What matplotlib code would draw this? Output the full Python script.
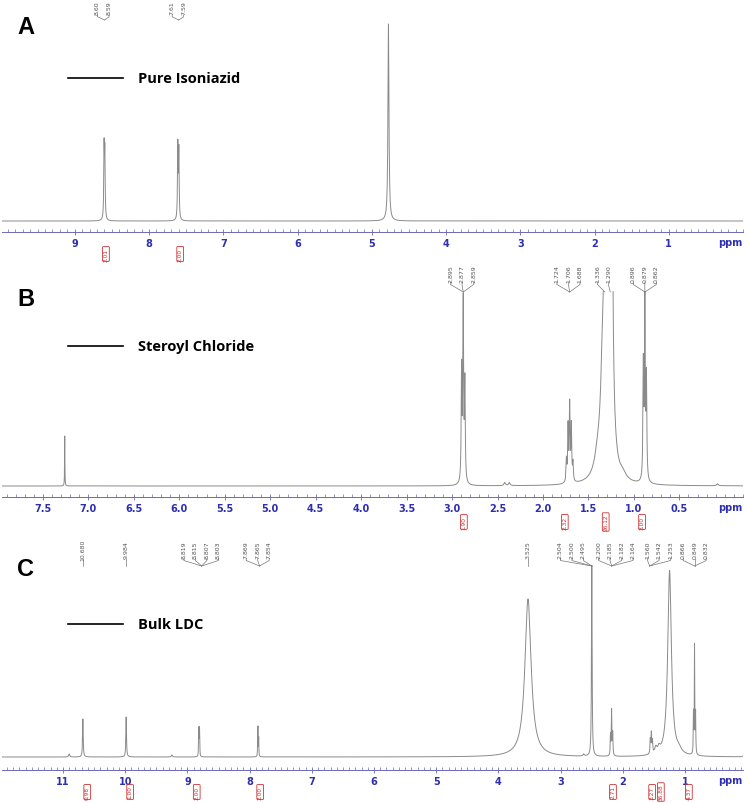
import numpy as np
import matplotlib
matplotlib.use("Agg")
import matplotlib.pyplot as plt
from matplotlib.lines import Line2D
from matplotlib.ticker import MultipleLocator

W, H = 749, 804

# ---------------- data ----------------
# A : pure isoniazid
a_shift = [8.605, 8.595, 7.612, 7.598, 4.775]
a_height = [70, 64, 74, 68, 197]
a_width = [0.005, 0.005, 0.005, 0.005, 0.008]
a_ticks = [9, 8, 7, 6, 5, 4, 3, 2, 1]
a_int_pos = [8.58, 7.58]
a_int_val = ["2.01", "2.00"]
a_pk_labels = [["8.60", "8.59"], ["7.61", "7.59"]]
a_pk_center = [8.615, 7.61]
a_pk_target = [8.600, 7.600]

# B : steroyl chloride
b_shift = [7.260, 2.895, 2.877, 2.859, 1.742, 1.724, 1.706, 1.688, 1.670,
           1.400, 1.340, 1.310, 1.285, 1.262, 1.245, 1.120,
           0.896, 0.879, 0.862, 2.420, 2.370, 0.080]
b_height = [50, 112, 178, 98, 22, 55, 76, 55, 18,
            14, 90, 160, 260, 330, 260, 5,
            114, 176, 100, 3, 3, 2]
b_width = [0.002, 0.005, 0.005, 0.005, 0.005, 0.005, 0.005, 0.005, 0.005,
           0.040, 0.030, 0.020, 0.018, 0.015, 0.012, 0.040,
           0.005, 0.005, 0.005, 0.010, 0.010, 0.010]
b_ticks = [7.5, 7.0, 6.5, 6.0, 5.5, 5.0, 4.5, 4.0, 3.5, 3.0, 2.5, 2.0, 1.5, 1.0, 0.5]
b_int_pos = [2.87, 1.76, 1.31, 0.91]
b_int_val = ["1.90", "2.32", "26.12", "3.00"]
b_pk_labels = [["2.895", "2.877", "2.859"], ["1.724", "1.706", "1.688"],
               ["1.336"], ["1.290"], ["0.896", "0.879", "0.862"]]
b_pk_center = [2.890, 1.720, 1.400, 1.280, 0.880]
b_pk_target = [2.877, 1.706, 1.320, 1.260, 0.879]

# C : bulk LDC
c_shift = [10.900, 10.680, 9.984, 9.250, 8.819, 8.815, 8.807, 8.803,
           7.869, 7.865, 7.854, 3.525, 2.630, 2.500,
           2.200, 2.182, 2.164, 1.560, 1.543, 1.525, 1.470, 1.420,
           1.250, 1.100, 0.866, 0.849, 0.832, 0.050]
c_height = [3, 38, 40, 2, 18, 20, 20, 18,
            20, 22, 18, 158, 2, 192,
            20, 45, 22, 14, 20, 12, 6, 5,
            186, 4, 40, 108, 40, 4]
c_width = [0.010, 0.006, 0.006, 0.010, 0.003, 0.003, 0.003, 0.003,
           0.003, 0.003, 0.003, 0.060, 0.010, 0.006,
           0.005, 0.005, 0.005, 0.006, 0.006, 0.006, 0.020, 0.020,
           0.035, 0.050, 0.004, 0.004, 0.004, 0.010]
c_ticks = [11, 10, 9, 8, 7, 6, 5, 4, 3, 2, 1]
c_int_pos = [10.61, 9.92, 8.85, 7.83, 2.16, 1.53, 1.39, 0.94]
c_int_val = ["0.98", "1.00", "2.00", "2.00", "2.71", "3.27", "36.88", "4.37"]
c_pk_labels = [["10.680"], ["9.984"], ["8.819", "8.815", "8.807", "8.803"],
               ["7.869", "7.865", "7.854"], ["3.525"], ["2.504", "2.500", "2.495"],
               ["2.200", "2.185", "2.182", "2.164"], ["1.560", "1.542", "1.253"],
               ["0.866", "0.849", "0.832"]]
c_pk_center = [10.680, 9.984, 8.780, 7.870, 3.525, 2.820, 2.115, 1.420, 0.846]
c_pk_target = [10.680, 9.984, 8.770, 7.840, 3.525, 2.500, 2.180, 1.570, 0.846]


# ---------------- helpers ----------------
def lorentz(x, shifts, heights, widths):
    y = np.zeros_like(x)
    for s, h, w in zip(shifts, heights, widths):
        y += h * w ** 2 / ((x - s) ** 2 + w ** 2)
    return y


def fy(py):
    return 1 - py / H


fig = plt.figure(figsize=(W / 100, H / 100), dpi=100)
fig.patch.set_facecolor("white")

blue = "#2e2eb0"
axis_col = "#6a6ab8"
gray_line = "#8a8a8a"
red = "#d03030"


def panel(left, right, spine_y, top_y, base_off, shifts, heights, widths,
          ticks, fmt, letter, letter_y, name, legend_y,
          int_pos, int_val, int_y, pk_labels, pk_center, pk_target, lab_y, conv_y):
    x0, x1 = 2, 743
    ax = fig.add_axes([x0 / W, fy(spine_y), (x1 - x0) / W, (spine_y - top_y) / H])
    ppx = (x1 - x0) / (left - right)
    x = np.linspace(right, left, 60000)
    y = lorentz(x, shifts, heights, widths)
    ax.plot(x, y, color=gray_line, lw=0.7)
    ax.set_xlim(left, right)
    ax.set_ylim(-base_off, spine_y - base_off - top_y)
    for s in ["top", "left", "right"]:
        ax.spines[s].set_visible(False)
    ax.spines["bottom"].set_color(axis_col)
    ax.spines["bottom"].set_linewidth(0.7)
    ax.set_yticks([])
    ax.set_xticks(ticks)
    ax.set_xticklabels([fmt % t for t in ticks])
    ax.xaxis.set_minor_locator(MultipleLocator(0.1))
    ax.tick_params(axis="x", which="major", direction="inout", length=4, width=0.6,
                   color=axis_col, labelcolor=blue, labelsize=7, pad=2)
    ax.tick_params(axis="x", which="minor", direction="in", length=2, width=0.5,
                   color=axis_col)
    for lab in ax.get_xticklabels():
        lab.set_fontweight("bold")
    fig.text(730 / W, fy(spine_y + 10), "ppm", color=blue, fontsize=7,
             fontweight="bold", ha="center", va="center")

    # panel letter and legend
    fig.text(26 / W, fy(letter_y), letter, fontsize=17, fontweight="bold",
             family="Liberation Sans", ha="center", va="center")
    fig.add_artist(Line2D([68 / W, 123 / W], [fy(legend_y), fy(legend_y)],
                          color="black", lw=1.2))
    fig.text(138 / W, fy(legend_y), name, fontsize=10.5, fontweight="bold",
             family="Open Sans", ha="left", va="center")

    def to_px(ppm):
        return x0 + (left - ppm) * ppx

    # integrals
    for p, v in zip(int_pos, int_val):
        fig.text(to_px(p) / W, fy(int_y), v, rotation=90, fontsize=4.2, color=red,
                 ha="center", va="center",
                 bbox=dict(boxstyle="round,pad=0.15", fc="none", ec=red, lw=0.6))

    # peak picking labels
    for labs, c, t in zip(pk_labels, pk_center, pk_target):
        n = len(labs)
        cx = to_px(c)
        tx = to_px(t)
        for i, lab in enumerate(labs):
            lx = cx + (i - (n - 1) / 2) * 11.5
            bottom = lab_y + len(lab) * 1.7
            fig.text(lx / W, fy(lab_y), lab, rotation=90, fontsize=4.5, color="#555555",
                     ha="center", va="center")
            fig.add_artist(Line2D([lx / W, lx / W, tx / W],
                                  [fy(bottom + 1), fy(bottom + 3), fy(conv_y)],
                                  color="#777777", lw=0.5))
    return ax


panel(9.98, 0.0, 233, 20, 11, a_shift, a_height, a_width, a_ticks, "%d",
      "A", 28, "Pure Isoniazid", 79, a_int_pos, a_int_val, 255,
      a_pk_labels, a_pk_center, a_pk_target, 8, 21)

panel(7.95, -0.2, 498, 292, 11, b_shift, b_height, b_width, b_ticks, "%.1f",
      "B", 300, "Steroyl Chloride", 347, b_int_pos, b_int_val, 523,
      b_pk_labels, b_pk_center, b_pk_target, 274, 293)

panel(11.98, 0.07, 771, 566, 13, c_shift, c_height, c_width, c_ticks, "%d",
      "C", 570, "Bulk LDC", 625, c_int_pos, c_int_val, 793,
      c_pk_labels, c_pk_center, c_pk_target, 550, 567)

fig.savefig("out.png", dpi=100)
